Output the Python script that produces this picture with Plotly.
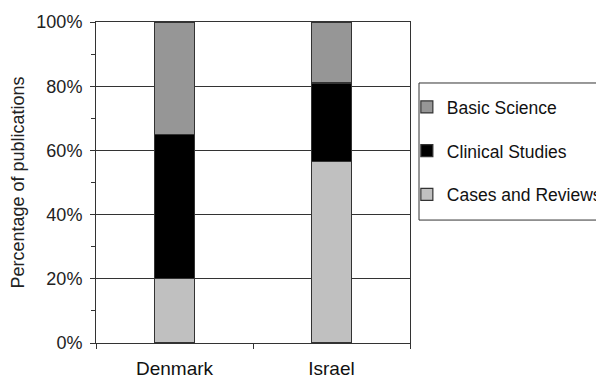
import plotly.graph_objects as go

countries = ["Denmark", "Israel"]
cases_reviews = [20, 56.5]
clinical_studies = [45, 24.5]
basic_science = [35, 19]

fig = go.Figure()
series = [
    ("Cases and Reviews", cases_reviews, "#c0c0c0", 3),
    ("Clinical Studies", clinical_studies, "#000000", 2),
    ("Basic Science", basic_science, "#969696", 1),
]
for name, vals, color, rank in series:
    fig.add_trace(go.Bar(
        x=countries, y=vals, name=name, legendgroup=name, legendrank=rank,
        marker=dict(color=color, line=dict(color="#333333", width=1.2)),
    ))

fig.update_layout(
    barmode="stack",
    bargap=0.745,
    width=604, height=382,
    margin=dict(l=88, r=202, t=14, b=47, autoexpand=False),
    paper_bgcolor="white", plot_bgcolor="white",
    font=dict(family="Liberation Sans, Arial, sans-serif", size=18, color="#222222"),
    showlegend=True,
    legend=dict(
        x=0.99, y=0.791, xanchor="left", yanchor="top",
        traceorder="grouped", tracegroupgap=18,
        borderwidth=0, bgcolor="rgba(0,0,0,0)",
        font=dict(size=17.5, color="#111111"),
        itemwidth=30,
    ),
    shapes=[dict(
        type="rect", xref="paper", yref="paper",
        x0=1.0287, x1=1.9, y0=0.383, y1=0.81,
        line=dict(color="#333333", width=1), fillcolor="rgba(0,0,0,0)",
        layer="below",
    )],
)
fig.update_yaxes(
    range=[0, 100], tickvals=[0, 20, 40, 60, 80, 100],
    ticktext=["0%", "20%", "40%", "60%", "80%", "100%"],
    showgrid=True, gridcolor="#333333", gridwidth=1,
    showline=True, linecolor="#333333", linewidth=1, mirror=True,
    ticks="outside", ticklen=5, tickcolor="#333333",
    minor=dict(ticks="outside", dtick=10, ticklen=4, tickcolor="#333333", showgrid=False),
    title=dict(text="Percentage of publications", font=dict(size=18), standoff=7),
    tickfont=dict(size=18), ticklabelstandoff=4,
    zeroline=False, automargin=False,
)
fig.update_xaxes(
    showline=True, linecolor="#333333", linewidth=1, mirror=True,
    ticks="outside", tickson="boundaries", ticklen=5, tickcolor="#333333",
    tickfont=dict(size=19, color="#111111"), ticklabelstandoff=8,
    showgrid=False, automargin=False,
)
fig.write_html("out.html")
